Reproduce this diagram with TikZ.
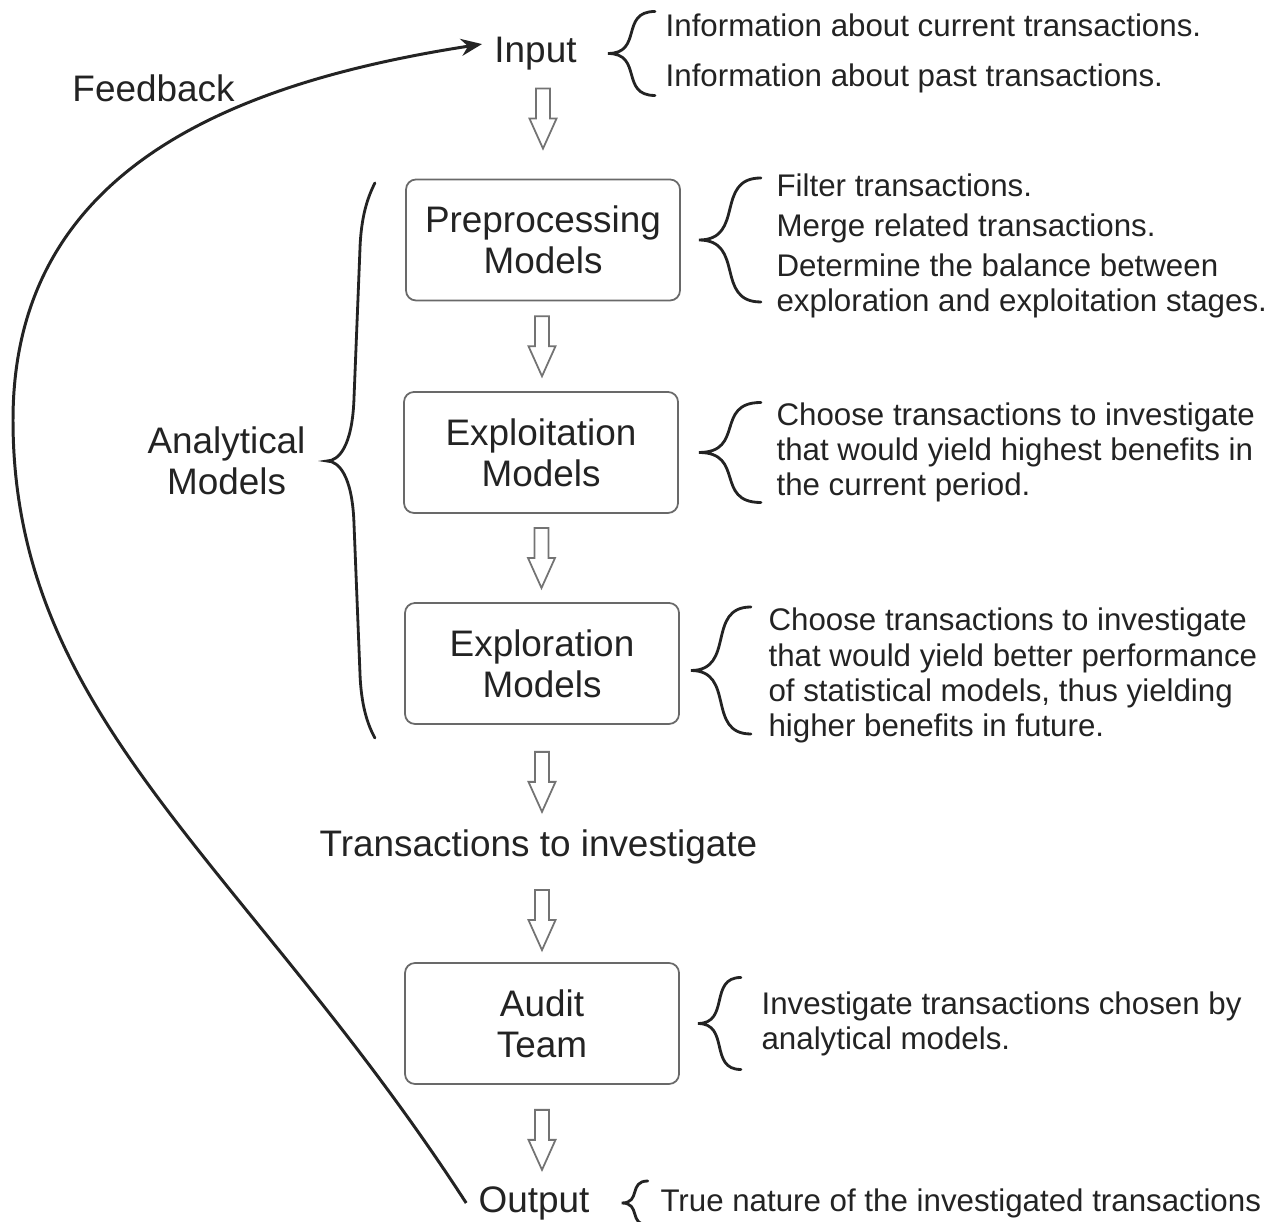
\documentclass[tikz,border=0pt]{standalone}
\usepackage{fontspec}
\setmainfont{Liberation Sans}
\usetikzlibrary{arrows.meta, positioning, calc}
\definecolor{InkGray}  {RGB}{ 35, 35, 35}
\definecolor{FrameGray}{RGB}{105,105,105}
\definecolor{FlowGray} {RGB}{115,115,115}
\newcommand{\mainsize}{\fontsize{10.5}{11.7}\selectfont}
\newcommand{\notesize}{\fontsize{8.9}{10}\selectfont}
\tikzset{
  % Model boxes
  model/.style={
    rectangle, rounded corners=0.1cm,
    draw=FrameGray, line width=0.5pt,
    minimum width=2.74cm, minimum height=1.21cm,
    font=\mainsize, text=InkGray, align=center, inner sep=2pt
  },
  % Plain stage labels
  stage/.style={font=\mainsize, text=InkGray, align=center},
  % Notes behind the braces
  note/.style={font=\notesize, text=InkGray, align=left, inner sep=0pt},
  % Brace strokes
  bracestroke/.style={draw=InkGray, line width=0.8pt, line cap=round},
  % Feedback loop
  feedback/.style={
    -{Stealth[length=0.21cm, width=0.17cm]}, line width=0.85pt, draw=InkGray
  },
  % Hollow down arrow between stages
  flowline/.style={draw=FlowGray, line width=0.5pt, fill=white},
  pics/flowarrow/.style={code={
    \draw[flowline] (-0.07,0.30) -- (-0.07,0) -- (-0.135,0) -- (0,-0.30)
                    -- (0.135,0) -- (0.07,0) -- (0.07,0.30) -- cycle;
  }},
  % Short curly brace opening right, tip at origin: half height / width
  pics/curlybrace/.style 2 args={code={
    \draw[bracestroke] (#2,#1) .. controls ({0.25*#2},#1) and ({0.75*#2},0) .. (0,0)
                               .. controls ({0.75*#2},0) and ({0.25*#2},-#1) .. (#2,-#1);
  }},
  % Long brace round the three model boxes
  pics/tallbrace/.style={code={
    \draw[bracestroke] (0.48,2.78) .. controls (0.41,2.64) and (0.34,2.45) .. (0.33,2.10)
      -- (0.27,0.60) .. controls (0.25,0.15) and (0.12,0) .. (0,0)
      .. controls (0.12,0) and (0.25,-0.15) .. (0.27,-0.60)
      -- (0.33,-2.10) .. controls (0.34,-2.45) and (0.41,-2.64) .. (0.48,-2.77);
  }}
}

\begin{document}
\begin{tikzpicture}

  \useasboundingbox (0,0) rectangle (12.67,-12.22);

  % ── Main column ───────────────────────────────────────────────────────────
  \node[stage] (input)   at (5.355,-0.535) {Input};
  \node[model] (pre)     at (5.43,-2.40)   {Preprocessing\\Models};
  \node[model] (exploit) at (5.41,-4.525)  {Exploitation\\Models};
  \node[model] (explore) at (5.42,-6.635)  {Exploration\\Models};
  \node[stage] (trans)   at (5.385,-8.47)  {Transactions to investigate};
  \node[model] (audit)   at (5.42,-10.235) {Audit\\Team};
  \node[stage] (output)  at (5.34,-12.03)  {Output};

  % ── Side labels ───────────────────────────────────────────────────────────
  \node[stage] (feedlabel) at (1.535,-0.88) {Feedback};
  \node[stage] (analytic)  at (2.265,-4.61) {Analytical\\Models};

  % ── Hollow arrows down the column ─────────────────────────────────────────
  \pic at ([yshift=0.60cm]pre.north)       {flowarrow};
  \pic at ($(pre.south)!0.5!(exploit.north)$)     {flowarrow};
  \pic at ($(exploit.south)!0.5!(explore.north)$) {flowarrow};
  \pic at ([yshift=-0.57cm]explore.south)  {flowarrow};
  \pic at ([yshift=0.42cm]audit.north)     {flowarrow};
  \pic at ([yshift=-0.55cm]audit.south)    {flowarrow};

  % ── Braces and notes ──────────────────────────────────────────────────────
  \pic at ([xshift=0.19cm]input.east) {curlybrace={0.42}{0.47}};
  \node[note, right=0.76cm of input] (inputnote)
       {Information about current transactions.\\[0.15cm]
        Information about past transactions.};

  \pic at ([xshift=0.18cm]pre.east) {curlybrace={0.62}{0.62}};
  \node[note, right=0.95cm of pre, yshift=-0.06cm] (prenote)
       {Filter transactions.\\[0.05cm]
        Merge related transactions.\\[0.05cm]
        Determine the balance between\\
        exploration and exploitation stages.};

  \pic at ([xshift=0.20cm]exploit.east) {curlybrace={0.50}{0.62}};
  \node[note, right=0.97cm of exploit] (exploitnote)
       {Choose transactions to investigate\\
        that would yield highest benefits in\\
        the current period.};

  \pic at ([xshift=0.11cm, yshift=-0.07cm]explore.east) {curlybrace={0.635}{0.60}};
  \node[note, right=0.88cm of explore, yshift=-0.12cm] (explorenote)
       {Choose transactions to investigate\\
        that would yield better performance\\
        of statistical models, thus yielding\\
        higher benefits in future.};

  \pic at ([xshift=0.18cm]audit.east) {curlybrace={0.46}{0.43}};
  \node[note, right=0.81cm of audit] (auditnote)
       {Investigate transactions chosen by\\
        analytical models.};

  \pic at ([xshift=0.20cm]output.east) {curlybrace={0.22}{0.26}};
  \node[note, right=0.58cm of output] (outputnote)
       {True nature of the investigated transactions};

  \pic at ([xshift=0.09cm]analytic.east) {tallbrace};

  % ── Feedback loop: output back to input ───────────────────────────────────
  \coordinate (loopleft) at (0.13,-4.20);
  \draw[feedback] (output.west)
    .. controls (2.46,-8.63) and (0.13,-7.20) .. (loopleft)
    .. controls (0.13,-1.70) and (2.31,-0.83) .. (input.170);

\end{tikzpicture}
\end{document}
